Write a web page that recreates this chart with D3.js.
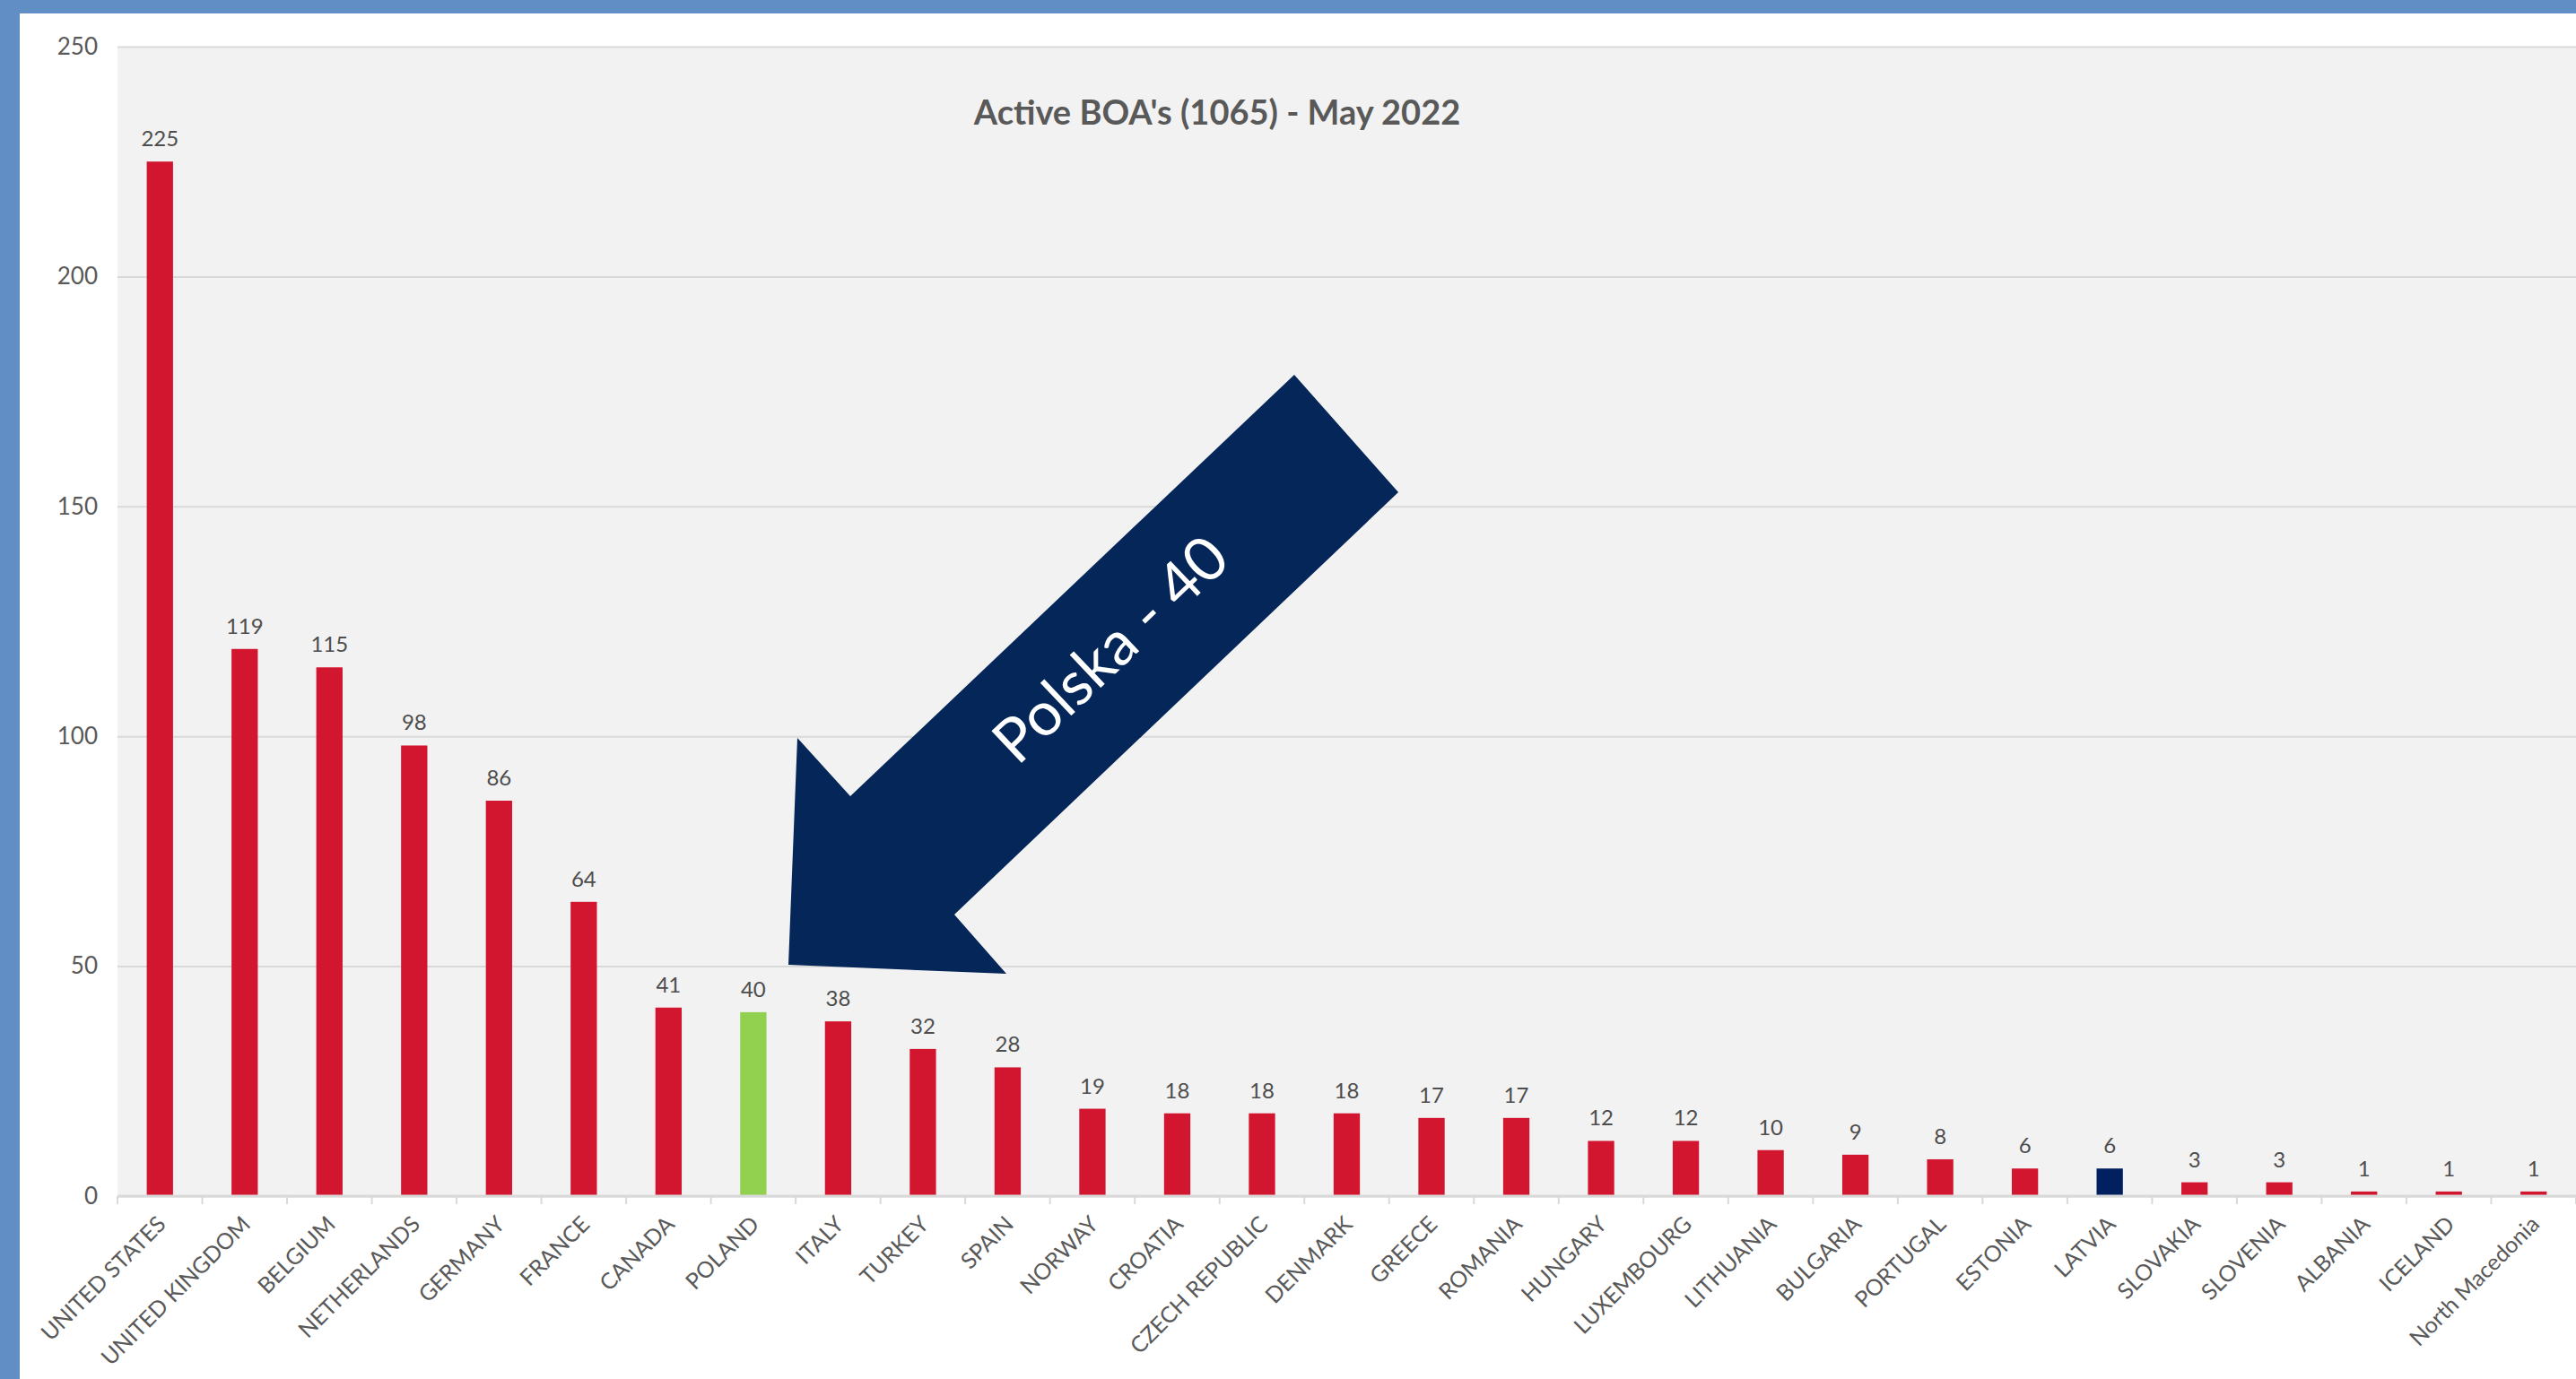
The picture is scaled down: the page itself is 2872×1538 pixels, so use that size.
<!DOCTYPE html>
<html>
<head>
<meta charset="utf-8">
<script src="https://cdn.jsdelivr.net/npm/d3@7"></script>
<style>
  html, body { margin: 0; padding: 0; background: #fff; }
  svg { display: block; }
  text { font-family: Lato, "Open Sans", sans-serif; }
</style>
</head>
<body>
<script>
const countries = ["UNITED STATES","UNITED KINGDOM","BELGIUM","NETHERLANDS","GERMANY","FRANCE","CANADA","POLAND","ITALY","TURKEY","SPAIN","NORWAY","CROATIA","CZECH REPUBLIC","DENMARK","GREECE","ROMANIA","HUNGARY","LUXEMBOURG","LITHUANIA","BULGARIA","PORTUGAL","ESTONIA","LATVIA","SLOVAKIA","SLOVENIA","ALBANIA","ICELAND","North Macedonia"];
const values = [225,119,115,98,86,64,41,40,38,32,28,19,18,18,18,17,17,12,12,10,9,8,6,6,3,3,1,1,1];
const highlight = {"POLAND": "#92d050", "LATVIA": "#002060"};
const yTicks = [0,50,100,150,200,250];
const title = "Active BOA's (1065) - May 2022";
const arrowLabel = "Polska - 40";

const W = 2872, H = 1538;
const plot = {left: 131, right: 2872, top: 52, bottom: 1334};

const svg = d3.select("body").append("svg").attr("width", W).attr("height", H);

// frame
svg.append("rect").attr("width", W).attr("height", H).attr("fill", "#628ec6");
svg.append("rect").attr("x", 22).attr("y", 15).attr("width", W - 22).attr("height", H - 15).attr("fill", "#ffffff");

// plot background
svg.append("rect").attr("x", plot.left).attr("y", plot.top)
  .attr("width", plot.right - plot.left).attr("height", plot.bottom - plot.top)
  .attr("fill", "#f2f2f2");

const x = d3.scaleBand().domain(countries).range([plot.left, plot.right])
  .paddingInner(0.69).paddingOuter(0.345);
const y = d3.scaleLinear().domain([0, 250]).range([plot.bottom, plot.top]);

// gridlines + y labels
const yAxis = d3.axisLeft(y).tickValues(yTicks).tickSize(-(plot.right - plot.left)).tickPadding(22);
const gy = svg.append("g").attr("transform", `translate(${plot.left},0)`).call(yAxis);
gy.select(".domain").remove();
gy.selectAll(".tick line").attr("stroke", "#d9d9d9").attr("stroke-width", 2);
gy.selectAll(".tick text").attr("fill", "#595959").attr("font-size", 26);

// bars
svg.append("g").selectAll("rect").data(countries).join("rect")
  .attr("x", d => x(d))
  .attr("y", (d, i) => y(values[i]))
  .attr("width", x.bandwidth())
  .attr("height", (d, i) => y(0) - y(values[i]))
  .attr("fill", d => highlight[d] || "#d2162f");

// value labels
svg.append("g").selectAll("text").data(countries).join("text")
  .attr("x", d => x(d) + x.bandwidth() / 2)
  .attr("y", (d, i) => y(values[i]) - 17)
  .attr("text-anchor", "middle")
  .attr("font-size", 24)
  .attr("fill", "#4d4d4d")
  .text((d, i) => values[i]);

// baseline axis
const step = x.step();
svg.append("line").attr("x1", plot.left).attr("x2", plot.right)
  .attr("y1", y(0)).attr("y2", y(0)).attr("stroke", "#d9d9d9").attr("stroke-width", 3);
const bounds = d3.range(countries.length + 1).map(i => plot.left + i * step);
svg.append("g").selectAll("line").data(bounds).join("line")
  .attr("x1", d => d).attr("x2", d => d)
  .attr("y1", y(0)).attr("y2", y(0) + 9)
  .attr("stroke", "#d9d9d9").attr("stroke-width", 2);

// x labels
const xAxis = d3.axisBottom(x).tickSize(0).tickPadding(0);
const gx = svg.append("g").attr("transform", `translate(0,${plot.bottom})`).call(xAxis);
gx.select(".domain").remove();
gx.selectAll(".tick text")
  .attr("font-size", 25)
  .attr("fill", "#595959")
  .attr("text-anchor", "end")
  .attr("dy", null)
  .attr("y", 0)
  .attr("transform", "translate(8,33) rotate(-45)");

// title
svg.append("text").attr("x", 1357).attr("y", 139)
  .attr("text-anchor", "middle").attr("font-size", 38).attr("font-weight", "bold")
  .attr("fill", "#595959").text(title);

// arrow annotation
const arrowPts = [[1443,418],[1559,549],[1064,1020],[1122,1086],[879,1076],[889,823],[948,888]];
svg.append("polygon").attr("points", arrowPts.map(p => p.join(",")).join(" "))
  .attr("fill", "#052658");
svg.append("text").attr("transform", "translate(1236,722) rotate(-43.5)")
  .attr("text-anchor", "middle").attr("dominant-baseline", "central")
  .attr("font-size", 68).attr("fill", "#ffffff").text(arrowLabel);
</script>
</body>
</html>
